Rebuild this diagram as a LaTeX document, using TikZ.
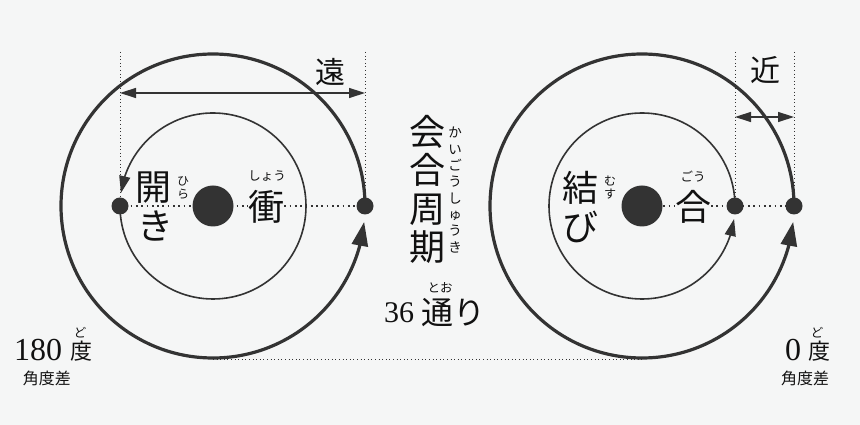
\documentclass[tikz,border=0pt]{standalone}
\usepackage{fontspec}
\newfontfamily\jp{Noto Sans CJK JP}
\newfontfamily\numf{Liberation Serif}
\usetikzlibrary{arrows.meta,bending}
\definecolor{bg}{RGB}{245,246,246}
\definecolor{ink}{RGB}{51,51,51}
\definecolor{txt}{RGB}{17,17,17}
\begin{document}
\begin{tikzpicture}[x=1pt,y=1pt,
  orbitout/.style={draw=ink,line width=3.2pt},
  orbitin/.style={draw=ink,line width=1.6pt},
  planet/.style={circle,fill=ink,minimum size=17pt,inner sep=0pt},
  sun/.style={circle,fill=ink,minimum size=41pt,inner sep=0pt},
  guide/.style={draw=ink,line width=0.8pt,dash pattern=on 1pt off 2.6pt},
  axisline/.style={draw=ink,line width=1.7pt,dash pattern=on 1.7pt off 3.6pt},
  span/.style={draw=ink,line width=1.4pt,{Triangle[length=16pt,width=10pt]}-{Triangle[length=16pt,width=10pt]}},
  bigtxt/.style={font=\jp\fontsize{36}{36}\selectfont,text=txt,inner sep=0pt},
  midtxt/.style={font=\jp\fontsize{30}{30}\selectfont,text=txt,inner sep=0pt},
  rubytxt/.style={font=\jp\fontsize{12.5}{13}\selectfont,text=txt,inner sep=0pt},
  numtxt/.style={font=\numf\fontsize{32}{32}\selectfont,text=txt,inner sep=0pt},
  smalltxt/.style={font=\jp\fontsize{16}{16}\selectfont,text=txt,inner sep=0pt},
  dotxt/.style={font=\jp\fontsize{22}{22}\selectfont,text=txt,inner sep=0pt}
]
\fill[bg] (0,0) rectangle (860,425);
\useasboundingbox (0,0) rectangle (860,425);

% centres and planets
\coordinate (c1) at (213,219);
\coordinate (c2) at (642,219);
\coordinate (p1in) at (120,219);
\coordinate (p1out) at (365,219);
\coordinate (p2in) at (735,219);
\coordinate (p2out) at (794,219);
\coordinate (t1a) at (120,373);
\coordinate (t1b) at (365,373);
\coordinate (t2a) at (735,373);
\coordinate (t2b) at (794,373);
\coordinate (s1a) at (120,332);
\coordinate (s1b) at (365,332);
\coordinate (s2a) at (735,308);
\coordinate (s2b) at (794,308);
\coordinate (b1) at (213,66);
\coordinate (b2) at (642,66);

% guides
\draw[guide] (t1a) -- (p1in);
\draw[guide] (t1b) -- (p1out);
\draw[guide] (t2a) -- (p2in);
\draw[guide] (t2b) -- (p2out);
\draw[guide] (b1) -- (b2);
\draw[axisline] (p1in) -- (p1out);
\draw[axisline] (c2) -- (p2out);

% orbits
\draw[orbitout,-{Triangle[length=24pt,width=16pt]}] (p1out) arc[start angle=0,end angle=354,radius=152];
\draw[orbitin,-{Triangle[length=17pt,width=11pt]}] (p1in) arc[start angle=180,end angle=532,radius=93];
\draw[orbitout,-{Triangle[length=24pt,width=16pt]}] (p2out) arc[start angle=0,end angle=354,radius=152];
\draw[orbitin,-{Triangle[length=17pt,width=11pt]}] (p2in) arc[start angle=0,end angle=352,radius=93];

% bodies
\node[sun] (sun1) at (c1) {};
\node[sun] (sun2) at (c2) {};
\node[planet] (pl1in) at (p1in) {};
\node[planet] (pl1out) at (p1out) {};
\node[planet] (pl2in) at (p2in) {};
\node[planet] (pl2out) at (p2out) {};

% spans
\draw[span] (s1a) -- (s1b);
\draw[span] (s2a) -- (s2b);
\node[midtxt] (far) at (330,353) {遠};
\node[midtxt] (near) at (765,355) {近};

% left labels
\node[bigtxt] (hi) at (153,237) {開};
\node[bigtxt] (ki) at (155,199) {き};
\node[rubytxt,align=center,font=\jp\fontsize{12}{13}\selectfont] (hira) at (183,237) {ひ\\ら};
\node[bigtxt,fill=bg] (sho) at (266,218) {衝};
\node[rubytxt] (shou) at (267,249) {しょう};

% right labels
\node[bigtxt] (musu1) at (580,237) {結};
\node[bigtxt] (bi) at (580,198) {び};
\node[rubytxt,align=center,font=\jp\fontsize{12}{13}\selectfont] (musu) at (610,237) {む\\す};
\node[bigtxt,fill=bg] (go) at (693,218) {合};
\node[rubytxt] (gou) at (693,248) {ごう};

% centre title
\node[bigtxt] (k1) at (427,293) {会};
\node[bigtxt] (k2) at (427,255) {合};
\node[bigtxt] (k3) at (427,215) {周};
\node[bigtxt] (k4) at (427,178) {期};
\node[rubytxt,align=center,font=\jp\fontsize{13.5}{16.3}\selectfont] (kaigou) at (455,235) {か\\い\\ご\\う\\し\\ゅ\\う\\き};
\node[numtxt,font=\numf\fontsize{30}{30}\selectfont] (n36) at (399,112) {36};
\node[bigtxt,font=\jp\fontsize{32}{32}\selectfont] (toori) at (453,112) {通り};
\node[rubytxt] (too) at (440,137) {とお};

% angle labels
\node[numtxt] (n180) at (38,75) {180};
\node[dotxt] (do1) at (81,74) {度};
\node[rubytxt] (rd1) at (80,92) {ど};
\node[smalltxt] (diff1) at (47,47) {角度差};
\node[numtxt] (n0) at (793,75) {0};
\node[dotxt] (do2) at (819,74) {度};
\node[rubytxt] (rd2) at (817,92) {ど};
\node[smalltxt] (diff2) at (805,47) {角度差};
\end{tikzpicture}
\end{document}
